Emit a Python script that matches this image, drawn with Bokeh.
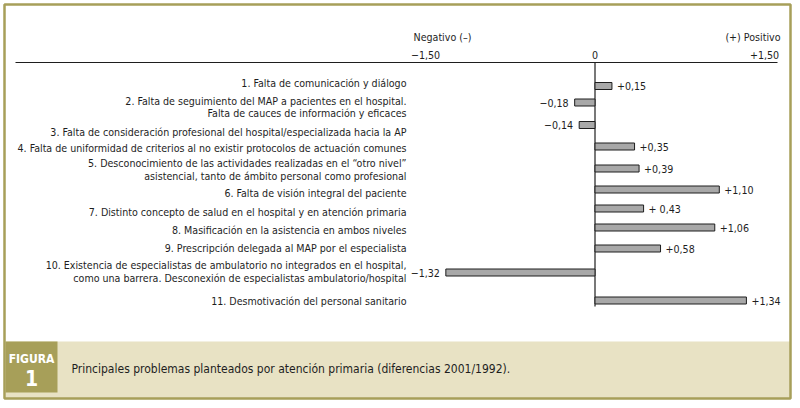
from bokeh.plotting import figure
from bokeh.models import Range1d, ColumnDataSource
from bokeh.embed import file_html
from bokeh.resources import INLINE
from bokeh.core.properties import value

# ---------------- data ----------------
labels = [
    "1. Falta de comunicación y diálogo",
    "2. Falta de seguimiento del MAP a pacientes en el hospital.\nFalta de cauces de información y eficaces",
    "3. Falta de consideración profesional del hospital/especializada hacia la AP",
    "4. Falta de uniformidad de criterios al no existir protocolos de actuación comunes",
    "5. Desconocimiento de las actividades realizadas en el “otro nivel”\nasistencial, tanto de ámbito personal como profesional",
    "6. Falta de visión integral del paciente",
    "7. Distinto concepto de salud en el hospital y en atención primaria",
    "8. Masificación en la asistencia en ambos niveles",
    "9. Prescripción delegada al MAP por el especialista",
    "10. Existencia de especialistas de ambulatorio no integrados en el hospital,\ncomo una barrera. Desconexión de especialistas ambulatorio/hospital",
    "11. Desmotivación del personal sanitario",
]
values = [0.15, -0.18, -0.14, 0.35, 0.39, 1.10, 0.43, 1.06, 0.58, -1.32, 1.34]
value_labels = ["+0,15", "\u22120,18", "\u22120,14", "+0,35", "+0,39", "+1,10",
                "+ 0,43", "+1,06", "+0,58", "\u22121,32", "+1,34"]
tick_values = [-1.5, 0, 1.5]
tick_labels = ["\u22121,50", "0", "+1,50"]
axis_title_neg = "Negativo (\u2013)"
axis_title_pos = "(+) Positivo"
caption = "Principales problemas planteados por atención primaria (diferencias 2001/1992)."
tag_word = "FIGURA"
tag_num = "1"

# ---------------- layout ----------------
W, H = 792, 400
ZERO_PX = 594.5      # pixel of x = 0
PX_PER_UNIT = 113.0
ROW1_PX = 85.5       # pixel of row 1
ROW_PX = 20.0

bar_rows = [1.0, 1.825, 2.95, 4.025, 5.125, 6.175, 7.125, 8.075, 9.125, 10.325, 11.725]
label_rows = [0.825, 2.05, 3.275, 4.075, 5.175, 6.325, 7.275, 8.175, 9.075, 10.275, 11.725]


def fx(px):
    return (px - ZERO_PX) / PX_PER_UNIT


def fy(px):
    return 1 + (px - ROW1_PX) / ROW_PX


OLIVE = "#A79F59"
BEIGE = "#E8E2C4"
BAR = "#A8A8A8"
INK = "#1e1e1e"
FONT = value("DejaVu Sans Condensed")

p = figure(width=W, height=H, output_backend="svg", toolbar_location=None,
           x_range=Range1d(fx(0), fx(W)), y_range=Range1d(fy(H), fy(0)),
           x_axis_location=None, y_axis_location=None, min_border=0,
           background_fill_color="white", border_fill_color="white",
           outline_line_color=None)
p.xgrid.visible = False
p.ygrid.visible = False

# caption panel
p.quad(left=[fx(5)], right=[fx(790)], top=[fy(341)], bottom=[fy(398)],
       fill_color=BEIGE, line_color=None)
p.quad(left=[fx(5)], right=[fx(57)], top=[fy(341)], bottom=[fy(392)],
       fill_color=OLIVE, line_color=None)
p.text(x=[fx(31)], y=[fy(358)], text=[tag_word], text_font=FONT,
       text_font_style="bold", text_font_size="12px", text_color="white",
       text_align="center", text_baseline="middle")
p.text(x=[fx(31)], y=[fy(377)], text=[tag_num], text_font=FONT,
       text_font_style="bold", text_font_size="21px", text_color="white",
       text_align="center", text_baseline="middle")
p.text(x=[fx(71)], y=[fy(368)], text=[caption], text_font=FONT,
       text_font_size="12px", text_color=INK,
       text_align="left", text_baseline="middle")

# outer border
p.quad(left=[fx(4)], right=[fx(790)], top=[fy(4)], bottom=[fy(398)],
       fill_color=None, line_color=OLIVE, line_width=2.5)

# axis rule, zero line, tick labels, titles
p.segment(x0=[fx(15)], x1=[fx(777)], y0=[fy(62)], y1=[fy(62)],
          line_color=INK, line_width=1.2)
p.segment(x0=[0], x1=[0], y0=[fy(62)], y1=[fy(306)],
          line_color=INK, line_width=1.2)
p.text(x=tick_values, y=[fy(54)] * len(tick_values), text=tick_labels,
       text_font=FONT, text_font_size="10.6px", text_color=INK,
       text_align="center", text_baseline="middle")
p.text(x=[fx(413)], y=[fy(36)], text=[axis_title_neg], text_font=FONT,
       text_font_size="10.6px", text_color=INK, text_align="left",
       text_baseline="middle")
p.text(x=[fx(780)], y=[fy(36)], text=[axis_title_pos], text_font=FONT,
       text_font_size="10.6px", text_color=INK, text_align="right",
       text_baseline="middle")

# bars
src = ColumnDataSource(dict(y=bar_rows, v=values))
p.hbar(y="y", left=0, right="v", height=7 / ROW_PX, source=src,
       fill_color=BAR, line_color=INK, line_width=1)

# value labels
pos = [i for i, v in enumerate(values) if v >= 0]
neg = [i for i, v in enumerate(values) if v < 0]
p.text(x=[values[i] for i in pos], y=[bar_rows[i] for i in pos],
       text=[value_labels[i] for i in pos], x_offset=5,
       text_font=FONT, text_font_size="10.6px", text_color=INK,
       text_align="left", text_baseline="middle")
p.text(x=[values[i] for i in neg], y=[bar_rows[i] for i in neg],
       text=[value_labels[i] for i in neg], x_offset=-6,
       text_font=FONT, text_font_size="10.6px", text_color=INK,
       text_align="right", text_baseline="middle")

# category labels
p.text(x=[fx(406)] * len(labels), y=label_rows, text=labels,
       text_font=FONT, text_font_size="10.6px", text_color=INK,
       text_align="right", text_baseline="middle", text_line_height=1.05)

open("out.html", "w").write(file_html(p, INLINE))
